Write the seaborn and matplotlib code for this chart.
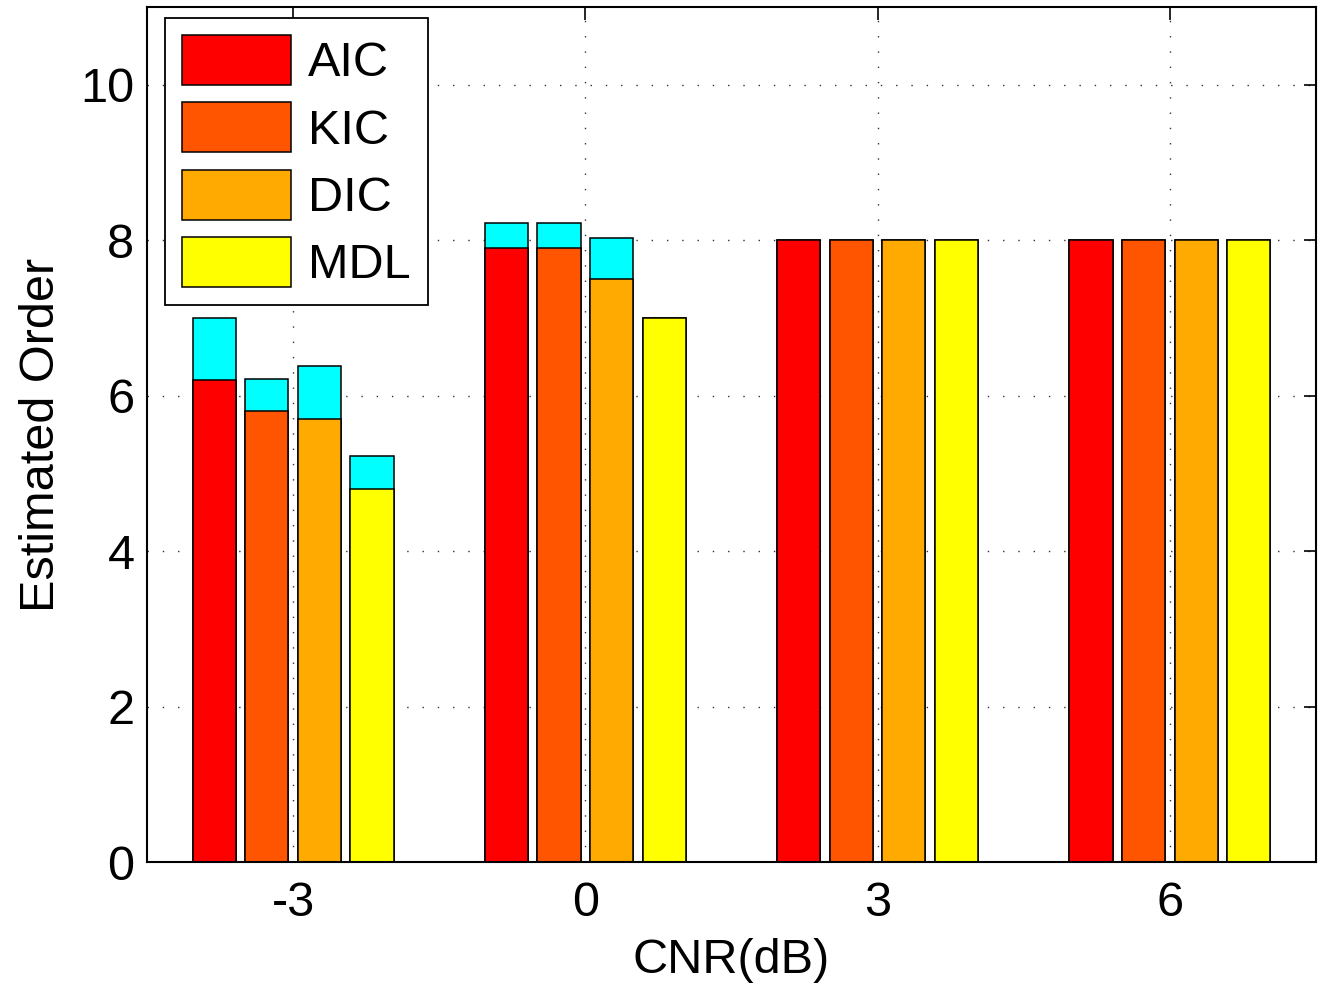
import pandas as pd
import matplotlib.pyplot as plt
from matplotlib.patches import Patch
import seaborn as sns

# values
cnr = ["-3", "0", "3", "6"]
methods = ["AIC", "KIC", "DIC", "MDL"]
base = {
    "AIC": [6.2, 7.9, 8.0, 8.0],
    "KIC": [5.8, 7.9, 8.0, 8.0],
    "DIC": [5.7, 7.5, 8.0, 8.0],
    "MDL": [4.8, 7.0, 8.0, 8.0],
}
top = {
    "AIC": [7.0, 8.22, 8.0, 8.0],
    "KIC": [6.22, 8.22, 8.0, 8.0],
    "DIC": [6.38, 8.03, 8.0, 8.0],
    "MDL": [5.22, 7.0, 8.0, 8.0],
}
colors = ["#FF0000", "#FF5500", "#FFAA00", "#FFFF00"]

rows = []
for m in methods:
    for i, c in enumerate(cnr):
        rows.append({"CNR": c, "Method": m, "Base": base[m][i], "Top": top[m][i]})
df = pd.DataFrame(rows)

sns.set_style("white")
plt.rcParams["font.family"] = ["Liberation Sans", "DejaVu Sans"]

fig = plt.figure(figsize=(13.29, 9.92), dpi=100)
ax = fig.add_axes([0.1106, 0.131, 0.8796, 0.862])

common = dict(data=df, x="CNR", hue="Method", order=cnr, hue_order=methods,
              errorbar=None, width=0.72, gap=0.18, saturation=1,
              edgecolor="black", linewidth=1.1, legend=False, ax=ax)
sns.barplot(y="Top", palette=["#00FFFF"] * 4, **common)
sns.barplot(y="Base", palette=colors, **common)

ax.set_xlim(-0.5, 3.5)
ax.set_ylim(0, 11)
ax.set_yticks([0, 2, 4, 6, 8, 10])
ax.set_axisbelow(True)
ax.grid(True, color="#333333", linestyle=(0, (1, 10)), linewidth=1)

for s in ax.spines.values():
    s.set_visible(True)
    s.set_color("black")
    s.set_linewidth(1.5)
ax.tick_params(direction="in", length=9, width=1.2, top=True, right=True,
               labelsize=35, pad=14, colors="black")
ax.tick_params(axis="y", pad=9)

ax.set_xlabel("CNR(dB)", fontsize=35, labelpad=8, color="black")
ax.set_ylabel("Estimated Order", fontsize=35, labelpad=12, color="black")

handles = [Patch(facecolor=c, edgecolor="black", linewidth=1.1, label=m)
           for m, c in zip(methods, colors)]
leg = ax.legend(handles=handles, loc="upper left", bbox_to_anchor=(0.0154, 0.987),
                borderaxespad=0, fontsize=35, handlelength=2.25, handleheight=1.2,
                handletextpad=0.35, labelspacing=0.33, borderpad=0.35,
                fancybox=False, framealpha=1)
leg.get_frame().set_edgecolor("black")
leg.get_frame().set_linewidth(1.3)
for t in leg.get_texts():
    t.set_color("black")

fig.savefig("out.png", dpi=100)
